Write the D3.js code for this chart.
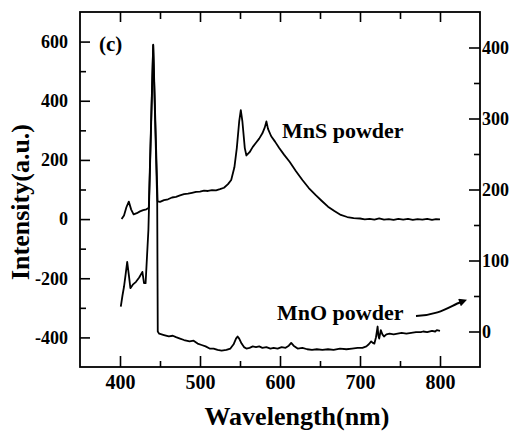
<!DOCTYPE html>
<html>
<head>
<meta charset="utf-8">
<script src="https://cdn.jsdelivr.net/npm/d3@7"></script>
<style>
body { margin: 0; background: #fff; }
svg text { font-family: "Liberation Serif", "Times New Roman", serif; font-weight: bold; fill: #000; }
</style>
</head>
<body>
<div id="chart"></div>
<script>
// MnS powder, left axis (nm, intensity)
var mnsData = [
	[402, 0], [405, 12], [408, 40], [411, 59], [414, 32], [417, 16], [421, 20], [425, 26],
	[429, 30], [433, 33], [436, 38], [441.5, 590], [447, 60], [450, 58], [455, 64], [460, 67],
	[465, 73], [470, 75], [475, 80], [480, 84], [485, 86], [490, 89], [495, 92], [500, 93],
	[505, 96], [510, 95], [515, 98], [520, 97], [525, 101], [530, 106], [535, 118], [539, 132],
	[543, 175], [546, 240], [549, 330], [551, 368], [553, 330], [556, 240], [558, 215], [562, 226],
	[566, 244], [570, 258], [574, 272], [578, 290], [581, 310], [583, 330], [585, 305], [589, 280],
	[594, 261], [599, 240], [605, 218], [612, 194], [620, 162], [628, 132], [636, 105], [645, 80],
	[652, 62], [660, 42], [668, 27], [676, 14], [684, 7], [692, 3], [700, 2], [706, -1],
	[712, 1], [718, -2], [724, 2], [730, -2], [736, 0], [742, -3], [748, 1], [754, -2],
	[760, 1], [766, -3], [772, 0], [778, -2], [784, 1], [790, -3], [795, 0], [800, -1]
];

// MnO powder, right axis (nm, intensity)
var mnoData = [
	[401, 35], [403, 50], [405, 63], [407, 80], [409, 98], [411, 80], [413, 61], [416, 66],
	[420, 70], [424, 76], [428, 84], [430, 68], [432, 68], [435.5, 143], [441.5, 403], [446.5, 183],
	[447.2, 0], [449, -3], [455, -5], [461, -7], [466, -6], [470, -8], [475, -10], [480, -12],
	[487, -14], [492, -13], [497, -17], [502, -19], [507, -21], [512, -24], [517, -24], [522, -26],
	[527, -27], [533, -26], [538, -24], [542, -18], [545, -10], [547, -7], [549, -10], [552, -17],
	[555, -22], [558, -24], [562, -23], [566, -21], [570, -22], [574, -21], [578, -23], [583, -22],
	[588, -24], [592, -23], [597, -24], [602, -22], [607, -23], [611, -20], [614, -16], [617, -20],
	[622, -24], [628, -23], [634, -25], [640, -26], [646, -25], [653, -26], [660, -25], [667, -26],
	[675, -24], [683, -25], [690, -24], [697, -23], [703, -23], [708, -21], [711, -18], [714, -14],
	[716, -16], [718, -17], [720, -8], [722, 7], [723, -6], [724, -10], [726, 2], [728, -4],
	[730, -7], [733, -4], [737, -3], [742, -4], [747, -3], [752, -2], [758, -3], [764, -2],
	[770, -1], [776, -1], [779, 0], [784, -1], [790, 1], [794, 0], [796, 2], [800, 1]
];

var xTicks = [400, 500, 600, 700, 800];
var xMinor = [450, 550, 650, 750];
var leftTicks = [-400, -200, 0, 200, 400, 600];
var leftMinor = [-300, -100, 100, 300, 500];
var rightTicks = [0, 100, 200, 300, 400];
var rightMinor = [50, 150, 250, 350];

var chart =
{
	draw:function()
	{
		var W = 516, H = 432;
		var L = 80, R = 480, T = 12, B = 367;
		var serif = "Liberation Serif";

		var svg = d3.select("#chart")
		.append("svg")
		.attr("width", W)
		.attr("height", H);

		var x = d3.scaleLinear().domain([350, 850]).range([L, R]);
		var yl = d3.scaleLinear().domain([-500, 700]).range([B, T]);
		var yr = d3.scaleLinear().domain([-50, 450]).range([B, T]);

		// frame
		svg.append("rect")
		.attr("x", L).attr("y", T)
		.attr("width", R-L).attr("height", B-T)
		.attr("fill", "none")
		.attr("stroke", "#000")
		.attr("stroke-width", 1.8);

		// bottom axis with inward ticks
		var gb = svg.append("g").attr("transform", "translate(0," + B + ")");
		gb.call(d3.axisBottom(x).tickValues(xTicks).tickSizeInner(-11).tickSizeOuter(0).tickPadding(8));
		gb.append("g").call(d3.axisBottom(x).tickValues(xMinor).tickSizeInner(-6).tickSizeOuter(0).tickFormat(""));

		// top ticks
		var gt = svg.append("g").attr("transform", "translate(0," + T + ")");
		gt.call(d3.axisTop(x).tickValues(xTicks).tickSizeInner(-10).tickSizeOuter(0).tickFormat(""));
		gt.append("g").call(d3.axisTop(x).tickValues(xMinor).tickSizeInner(-7).tickSizeOuter(0).tickFormat(""));

		// left axis
		var gl = svg.append("g").attr("transform", "translate(" + L + ",0)");
		gl.call(d3.axisLeft(yl).tickValues(leftTicks).tickSizeInner(-10).tickSizeOuter(0).tickPadding(12)
			.tickFormat(function(d) { return d < 0 ? "-" + Math.abs(d) : "" + d; }));
		gl.append("g").call(d3.axisLeft(yl).tickValues(leftMinor).tickSizeInner(-6).tickSizeOuter(0).tickFormat(""));

		// right axis
		var gr = svg.append("g").attr("transform", "translate(" + R + ",0)");
		gr.call(d3.axisRight(yr).tickValues(rightTicks).tickSizeInner(-11).tickSizeOuter(0).tickPadding(2));
		gr.append("g").call(d3.axisRight(yr).tickValues(rightMinor).tickSizeInner(-6).tickSizeOuter(0).tickFormat(""));

		svg.selectAll(".domain").remove();
		svg.selectAll(".tick line").attr("stroke", "#000").attr("stroke-width", 1.6);
		gb.selectAll("text").style("font-size", "20px").style("font-family", serif).style("font-weight", "bold");
		gl.selectAll("text").style("font-size", "18px").style("font-family", serif).style("font-weight", "bold");
		gr.selectAll("text").style("font-size", "18px").style("font-family", serif).style("font-weight", "bold");

		// curves
		var lineL = d3.line()
		.x(function(d) { return x(d[0]); })
		.y(function(d) { return yl(d[1]); });
		var lineR = d3.line()
		.x(function(d) { return x(d[0]); })
		.y(function(d) { return yr(d[1]); });

		svg.append("path")
		.datum(mnsData)
		.attr("d", lineL)
		.attr("fill", "none")
		.attr("stroke", "#000")
		.attr("stroke-width", 1.8)
		.attr("stroke-linejoin", "round");

		svg.append("path")
		.datum(mnoData)
		.attr("d", lineR)
		.attr("fill", "none")
		.attr("stroke", "#000")
		.attr("stroke-width", 1.8)
		.attr("stroke-linejoin", "round");

		// labels
		svg.append("text").attr("x", 99).attr("y", 51).style("font-size", "21px").text("(c)");
		svg.append("text").attr("x", 282).attr("y", 138).style("font-size", "22px").text("MnS powder");
		svg.append("text").attr("x", 277).attr("y", 320).style("font-size", "22px").text("MnO powder");

		svg.append("text")
		.attr("x", 297).attr("y", 425)
		.attr("text-anchor", "middle")
		.style("font-size", "26px")
		.text("Wavelength(nm)");

		svg.append("text")
		.attr("transform", "translate(29,202) rotate(-90)")
		.attr("text-anchor", "middle")
		.style("font-size", "26px")
		.text("Intensity(a.u.)");

		// arrow towards the right axis
		svg.append("defs").append("marker")
		.attr("id", "head")
		.attr("viewBox", "0 0 10 10")
		.attr("refX", 2).attr("refY", 5)
		.attr("markerWidth", 5).attr("markerHeight", 4)
		.attr("orient", "auto")
		.append("path")
		.attr("d", "M0,0 L10,5 L0,10 z")
		.attr("fill", "#000");

		svg.append("path")
		.attr("d", "M416,316 C440,315 450,306 461,302")
		.attr("fill", "none")
		.attr("stroke", "#000")
		.attr("stroke-width", 2)
		.attr("marker-end", "url(#head)");
	}
};

chart.draw();
</script>
</body>
</html>
